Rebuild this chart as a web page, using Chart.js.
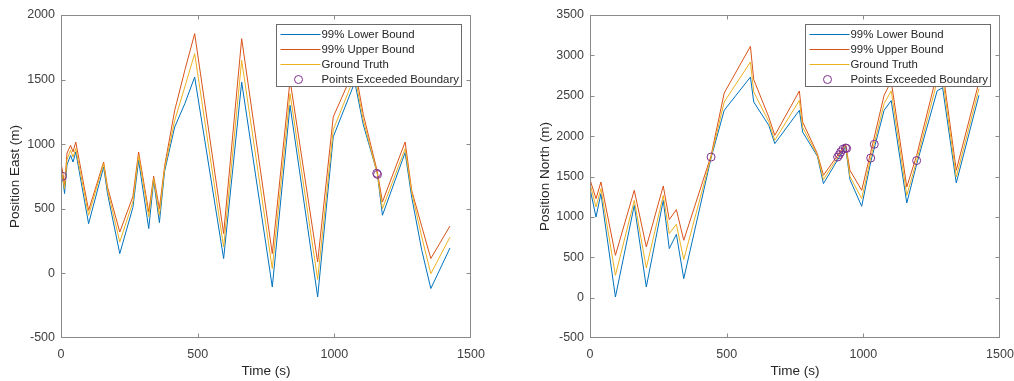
<!DOCTYPE html>
<html>
<head>
<meta charset="utf-8">
<script src="https://cdn.jsdelivr.net/npm/chart.js@4.4.0/dist/chart.umd.min.js"></script>
<style>
  body { margin: 0; background: #fff; }
  #wrap { position: relative; width: 1014px; height: 381px; }
  canvas { position: absolute; top: 0; }
</style>
</head>
<body>
<div id="wrap">
  <canvas id="east" width="507" height="381" style="left:0"></canvas>
  <canvas id="north" width="507" height="381" style="left:507px"></canvas>
</div>
<script>
// ---- East position (left plot) ----
const eastTime = [0, 5, 13, 22, 35, 44, 54, 101, 156, 170, 215, 263, 284, 321, 339, 360, 379, 416, 453, 489,
  595, 661, 773, 838, 939, 996, 1075, 1106, 1157, 1176, 1259, 1283, 1320, 1353, 1423];
const eastLower = [760, 758, 618, 840, 914, 862, 940, 385, 824, 620, 153, 510, 875, 347, 720, 393, 790, 1133, 1314, 1520,
  115, 1481, -105, 1301, -182, 1057, 1480, 1150, 778, 450, 935, 591, 178, -117, 196];
const eastUpper = [850, 800, 681, 930, 991, 941, 1017, 488, 862, 670, 320, 595, 940, 475, 752, 501, 830, 1262, 1572, 1856,
  308, 1817, 153, 1495, 88, 1211, 1590, 1230, 790, 553, 1017, 643, 362, 115, 367];
const eastTruth = [798, 752, 656, 880, 953, 901, 966, 450, 850, 650, 243, 553, 914, 437, 734, 450, 811, 1185, 1443, 1701,
  204, 1649, 37, 1392, -47, 1111, 1530, 1186, 772, 501, 966, 630, 281, -2, 281];
const eastMissT = [5, 1155, 1158];
const eastMissV = [752, 775, 766];

// ---- North position (right plot) ----
const northTime = [0, 22, 40, 93, 162, 206, 268, 290, 316, 343, 443, 491, 587, 599, 654, 676, 766, 778, 832, 854,
  935, 951, 994, 1027, 1076, 1102, 1159, 1195, 1270, 1290, 1340, 1423];
const northLower = [1350, 998, 1288, 8, 1143, 132, 1205, 607, 784, 235, 1730, 2320, 2732, 2423, 2134, 1907, 2320, 2051, 1750, 1412,
  1870, 1462, 1131, 1680, 2320, 2440, 1172, 1650, 2560, 2600, 1420, 2506];
const northUpper = [1462, 1226, 1432, 524, 1329, 627, 1382, 966, 1090, 710, 1760, 2534, 3112, 2700, 2237, 2010, 2559, 2175, 1780, 1515,
  1900, 1577, 1329, 1800, 2506, 2680, 1370, 1760, 2780, 2820, 1577, 2670];
const northTruth = [1412, 1122, 1350, 276, 1205, 367, 1267, 793, 908, 471, 1741, 2423, 2918, 2547, 2180, 1948, 2443, 2110, 1763, 1462,
  1886, 1500, 1226, 1729, 2403, 2560, 1267, 1692, 2680, 2720, 1494, 2588];
const northMissT = [443, 906, 912, 917, 925, 935, 939, 1027, 1040, 1195];
const northMissV = [1741, 1741, 1770, 1803, 1837, 1853, 1848, 1729, 1899, 1697];

const xTicks = [0, 500, 1000, 1500];
const legendLabels = ["99% Lower Bound", "99% Upper Bound", "Ground Truth", "Points Exceeded Boundary"];
const colors = ["#0072BD", "#D95319", "#EDB120", "#7E2F8E"];
const FONT = "'Liberation Sans', Arial, Helvetica, sans-serif";

function pts(xs, ys) {
  return xs.map((x, i) => ({ x: x, y: ys[i] }));
}

// box round the plot with inward ticks, and the legend (matlab style)
const framePlugin = {
  id: "frame",
  afterDraw(chart) {
    const ctx = chart.ctx;
    const a = chart.chartArea;
    const xs = chart.scales.x, ys = chart.scales.y;
    const L = Math.round(a.left) + 0.5, R = Math.round(a.right) - 0.5;
    const T = Math.round(a.top) + 0.5, B = Math.round(a.bottom) - 0.5;
    ctx.save();
    ctx.strokeStyle = "#8a8a8a";
    ctx.lineWidth = 1;
    ctx.strokeRect(L, T, R - L, B - T);
    ctx.beginPath();
    xs.ticks.forEach((t) => {
      const p = Math.round(xs.getPixelForValue(t.value)) + 0.5;
      if (p <= L + 1 || p >= R - 1) return;
      ctx.moveTo(p, B); ctx.lineTo(p, B - 4);
      ctx.moveTo(p, T); ctx.lineTo(p, T + 4);
    });
    ys.ticks.forEach((t) => {
      const p = Math.round(ys.getPixelForValue(t.value)) + 0.5;
      if (p <= T + 1 || p >= B - 1) return;
      ctx.moveTo(L, p); ctx.lineTo(L + 4, p);
      ctx.moveTo(R, p); ctx.lineTo(R - 4, p);
    });
    ctx.stroke();

    // legend
    const bx = Math.round(a.right) - 195 + 0.5, by = Math.round(a.top) + 9 + 0.5;
    ctx.fillStyle = "#fff";
    ctx.fillRect(bx, by, 185, 62);
    ctx.strokeStyle = "#6b6b6b";
    ctx.strokeRect(bx, by, 185, 62);
    ctx.font = "11.4px " + FONT;
    ctx.textBaseline = "middle";
    ctx.textAlign = "left";
    chart.data.datasets.forEach((ds, i) => {
      const yy = by + 10 + i * 15;
      ctx.strokeStyle = ds.borderColor;
      ctx.beginPath();
      if (i < 3) {
        ctx.moveTo(bx + 4, yy); ctx.lineTo(bx + 44, yy);
      } else {
        ctx.arc(bx + 22, yy, 4, 0, Math.PI * 2);
      }
      ctx.stroke();
      ctx.fillStyle = "#262626";
      ctx.fillText(ds.label, bx + 45, yy);
    });
    ctx.restore();
  },
};

function makeChart(id, time, lower, upper, truth, missT, missV, yMin, yMax, yTitle, titlePad, rightPad, axisWidth) {
  const lineDs = (label, data, color, order) => ({
    label: label,
    data: pts(time, data),
    borderColor: color,
    borderWidth: 1,
    pointRadius: 0,
    showLine: true,
    fill: false,
    tension: 0,
    order: order,
  });
  return new Chart(document.getElementById(id), {
    type: "scatter",
    data: {
      datasets: [
        lineDs(legendLabels[0], lower, colors[0], 3),
        lineDs(legendLabels[1], upper, colors[1], 2),
        lineDs(legendLabels[2], truth, colors[2], 1),
        {
          label: legendLabels[3],
          data: pts(missT, missV),
          borderColor: colors[3],
          backgroundColor: "rgba(0,0,0,0)",
          borderWidth: 1,
          pointRadius: 4,
          showLine: false,
          order: 0,
        },
      ],
    },
    options: {
      responsive: false,
      animation: false,
      layout: { padding: { top: 15, right: rightPad, left: 0, bottom: 0 } },
      plugins: { legend: { display: false }, tooltip: { enabled: false } },
      scales: {
        x: {
          type: "linear",
          min: 0,
          max: 1500,
          afterBuildTicks: (s) => { s.ticks = xTicks.map((v) => ({ value: v })); },
          // fixed height, and let the end labels hang over the padding
          afterFit: (s) => { s.height = 43; s.paddingLeft = 0; s.paddingRight = 0; },
          grid: { display: false, drawTicks: false },
          border: { display: false },
          ticks: { color: "#404040", font: { family: FONT, size: 12.5 }, padding: 9, maxRotation: 0, callback: (v) => String(v) },
          title: { display: true, text: "Time (s)", color: "#262626", font: { family: FONT, size: 13.5 }, padding: { top: 0, bottom: 2 } },
        },
        y: {
          type: "linear",
          min: yMin,
          max: yMax,
          ticks: { stepSize: 500, color: "#404040", font: { family: FONT, size: 12.5 }, padding: 6, callback: (v) => String(v) },
          afterFit: (s) => { s.width = axisWidth; s.paddingTop = 0; s.paddingBottom = 0; },
          grid: { display: false, drawTicks: false },
          border: { display: false },
          title: { display: true, text: yTitle, color: "#262626", font: { family: FONT, size: 13.5 }, padding: { top: titlePad, bottom: 0 } },
        },
      },
    },
    plugins: [framePlugin],
  });
}

makeChart("east", eastTime, eastLower, eastUpper, eastTruth, eastMissT, eastMissV, -500, 2000, "Position East (m)", 7, 36, 61);
makeChart("north", northTime, northLower, northUpper, northTruth, northMissT, northMissV, -500, 3500, "Position North (m)", 30, 14, 83);
</script>
</body>
</html>
